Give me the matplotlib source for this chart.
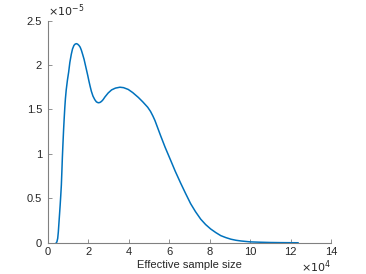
import matplotlib
matplotlib.use("Agg")
import matplotlib.pyplot as plt
from matplotlib.ticker import FuncFormatter

# Effective sample size (raw units) and density (x1e-5)
ess = [4300, 4600, 5000, 5300, 5600, 5900, 6200, 6500, 6800, 7050, 7300, 7600,
       7900, 8200, 8500, 8800, 9200, 9800, 10400, 11000, 11700, 12300, 13000,
       13600, 14200, 14800, 15500, 16100, 16700, 17300, 18000, 18600, 19200,
       19800, 20400, 21000, 21600, 22400, 23300, 24100, 25000, 25800, 26600,
       27400, 28300, 29900, 31600, 33500, 35700, 37500, 39800, 42000, 44800,
       47000, 49400, 50800, 52000, 53000, 55700, 58000, 60700, 63000, 65700, 68000,
       70600, 73000, 75600, 78000, 80500, 83000, 85500, 88000, 90500, 93000,
       95500, 100000, 105000, 110000, 115000, 123600]
density = [0.0, 0.01, 0.05, 0.12, 0.22, 0.32, 0.42, 0.53, 0.65, 0.80, 0.96, 1.12,
           1.27, 1.40, 1.52, 1.62, 1.72, 1.83, 1.92, 2.03, 2.12, 2.18, 2.22,
           2.235, 2.24, 2.235, 2.22, 2.20, 2.165, 2.12, 2.065, 2.005, 1.945,
           1.885, 1.82, 1.76, 1.705, 1.65, 1.61, 1.585, 1.575, 1.578, 1.59,
           1.61, 1.64, 1.685, 1.72, 1.74, 1.75, 1.745, 1.725, 1.69, 1.635,
           1.585, 1.525, 1.478, 1.425, 1.375, 1.21, 1.075, 0.93, 0.805, 0.67, 0.56,
           0.44, 0.35, 0.265, 0.205, 0.155, 0.115, 0.08, 0.058, 0.04, 0.028,
           0.02, 0.01, 0.006, 0.003, 0.0015, 0.0]
density = [d * 1e-5 for d in density]

xticks = [0, 20000, 40000, 60000, 80000, 100000, 120000, 140000]
yticks = [0, 0.5e-5, 1e-5, 1.5e-5, 2e-5, 2.5e-5]

plt.rcParams['font.family'] = ['Liberation Sans', 'DejaVu Sans']

fig = plt.figure(figsize=(3.66, 2.74), dpi=100)
ax = fig.add_axes([0.13, 0.114, 0.775, 0.811])
ax.plot(ess, density, color='#0072BD', lw=1.1)

ax.set_xlim(0, 140000)
ax.set_ylim(0, 2.5e-5)
ax.set_xticks(xticks)
ax.set_yticks(yticks)
ax.xaxis.set_major_formatter(FuncFormatter(lambda v, p: '%g' % round(v / 1e4, 6)))
ax.yaxis.set_major_formatter(FuncFormatter(lambda v, p: '%g' % round(v / 1e-5, 6)))

gray = '#262626'
for s in ['top', 'right']:
    ax.spines[s].set_visible(False)
for s in ['left', 'bottom']:
    ax.spines[s].set_color('#808080')
    ax.spines[s].set_linewidth(0.8)
ax.tick_params(direction='in', length=3, width=0.6, color='#808080',
               labelsize=8, labelcolor=gray)
ax.tick_params(axis='x', pad=3)
ax.tick_params(axis='y', pad=4)

ax.set_xlabel('Effective sample size', fontsize=8, color=gray, labelpad=2)

ax.text(0.0, 1.005, r'$\times10^{-5}$', transform=ax.transAxes, fontsize=8,
        color=gray, ha='left', va='bottom')
ax.text(1.0, -0.07, r'$\times10^{4}$', transform=ax.transAxes, fontsize=8,
        color=gray, ha='right', va='top')

fig.savefig('out.png', dpi=100)
